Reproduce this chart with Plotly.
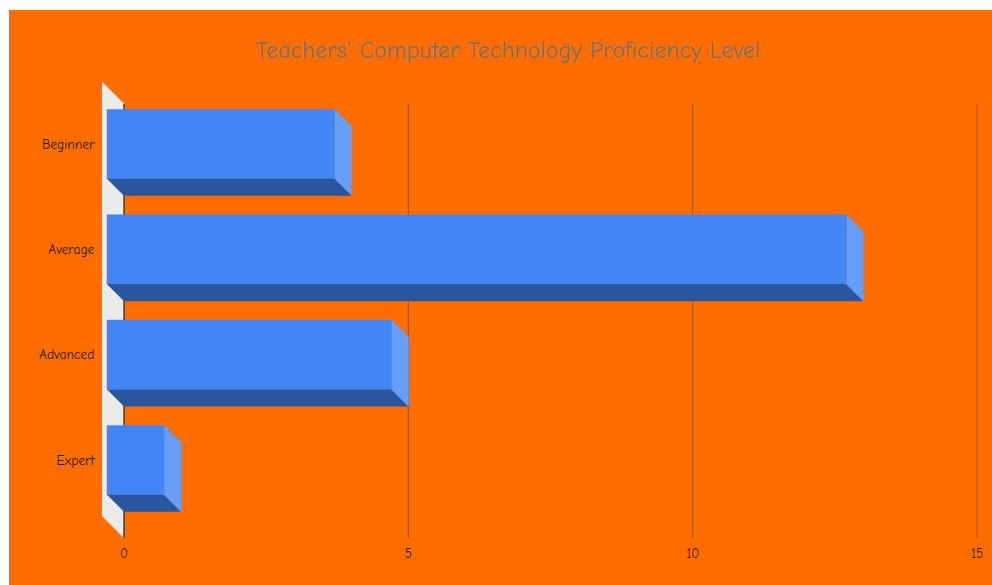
import plotly.graph_objects as go

# ---- data ----
categories = ["Beginner", "Average", "Advanced", "Expert"]
values = [4, 13, 5, 1]
x_ticks = [0, 5, 10, 15]
title_text = "Teachers' Computer Technology Proficiency Level"

# ---- style / geometry (in axis units) ----
ORANGE = "#FF6D00"
FRONT = "#4285F4"
BOTTOM = "#2A56A0"
SIDE = "#669DF6"
WALL = "#EBEBEB"
GRID = "#A5520F"
AXIS = "#3D2000"
FONT = "Comic Sans MS, Comic Neue, Open Sans, sans-serif"

dx = 0.299      # depth shift in x units
dy = -0.1614    # depth shift in y units (down)
h = 0.328       # half bar thickness
wall_dx = 0.387
wall_dy = -0.209
y_lo, y_hi = -0.741, 3.589
x_lo, x_hi = -0.387, 15.14

n = len(categories)
ypos = [n - 1 - i for i in range(n)]

fig = go.Figure()


def poly(xs, ys, color):
    fig.add_trace(go.Scatter(
        x=xs + [xs[0]], y=ys + [ys[0]], mode="lines", fill="toself",
        fillcolor=color, line=dict(color=color, width=0.5),
        hoverinfo="skip", showlegend=False))


# wall
poly([-wall_dx, 0, 0, -wall_dx],
     [y_hi, y_hi + wall_dy, y_lo, y_lo - wall_dy], WALL)

# grid lines (on back plane)
for t in x_ticks:
    fig.add_trace(go.Scatter(
        x=[t, t], y=[y_hi + wall_dy, y_lo], mode="lines",
        line=dict(color=AXIS if t == 0 else GRID, width=1.3 if t == 0 else 1),
        hoverinfo="skip", showlegend=False))

# bars
for v, yc in zip(values, ypos):
    top, bot = yc + h, yc - h
    # bottom face
    poly([-dx, v - dx, v, 0], [bot, bot, bot + dy, bot + dy], BOTTOM)
    # right face
    poly([v - dx, v, v, v - dx], [top, top + dy, bot + dy, bot], SIDE)
    # front face
    poly([-dx, v - dx, v - dx, -dx], [bot, bot, top, top], FRONT)

W, H = 992, 585
L, R, T, B = 102, 7, 82, 47
pw, ph = W - L - R, H - T - B

fig.update_layout(
    width=W, height=H,
    margin=dict(l=L, r=R, t=T, b=B),
    paper_bgcolor=ORANGE, plot_bgcolor="rgba(0,0,0,0)",
    title=dict(text=title_text, x=507.5 / W, xref="container", xanchor="center",
               y=1 - 50 / H, yref="container", yanchor="middle",
               font=dict(family=FONT, size=24, color="#757575")),
    xaxis=dict(range=[x_lo, x_hi], tickvals=x_ticks, showgrid=False, zeroline=False,
               showline=False, ticks="outside", ticklen=3, tickcolor="rgba(0,0,0,0)",
               tickfont=dict(family=FONT, size=13, color="#222222"), fixedrange=True),
    yaxis=dict(range=[y_lo, y_hi], tickvals=ypos, ticktext=categories, showgrid=False,
               zeroline=False, showline=False, ticks="outside", ticklen=4,
               tickcolor="rgba(0,0,0,0)",
               tickfont=dict(family=FONT, size=13.5, color="#222222"), fixedrange=True),
    shapes=[
        dict(type="rect", xref="paper", yref="paper", layer="below",
             x0=(0 - L) / pw - 0.01, x1=(9 - L) / pw, y0=-0.3, y1=1.3,
             fillcolor="white", line=dict(width=0)),
        dict(type="rect", xref="paper", yref="paper", layer="below",
             x0=-0.2, x1=1.1, y0=(H - B - 10) / ph, y1=1.3,
             fillcolor="white", line=dict(width=0)),
    ],
)

fig.write_html("out.html")
